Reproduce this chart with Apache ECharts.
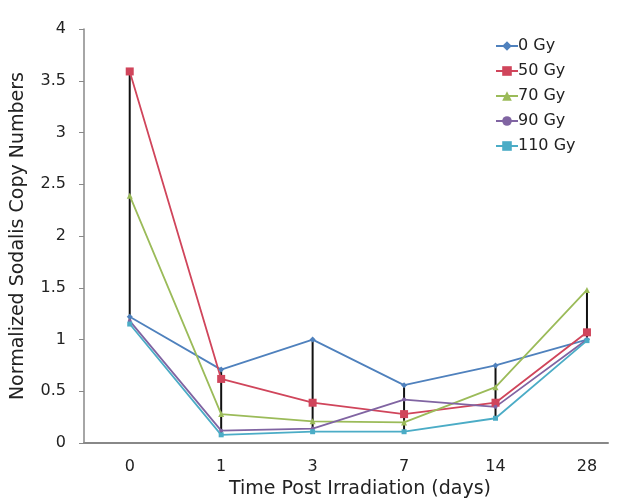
<!DOCTYPE html>
<html>
<head>
<meta charset="utf-8">
<script src="https://cdn.jsdelivr.net/npm/echarts@6/dist/echarts.min.js"></script>
<style>
  html, body { margin: 0; padding: 0; background: #fff; }
  #main { width: 624px; height: 504px; }
</style>
</head>
<body>
<div id="main"></div>
<script>
// days post irradiation
var categories = ["0", "1", "3", "7", "14", "28"];
var seriesNames = ["0 Gy", "50 Gy", "70 Gy", "90 Gy", "110 Gy"];
var gy0   = [1.22, 0.71, 1.00, 0.56, 0.75, 1.00];
var gy50  = [3.59, 0.62, 0.39, 0.28, 0.39, 1.07];
var gy70  = [2.39, 0.28, 0.21, 0.20, 0.54, 1.48];
var gy90  = [1.18, 0.12, 0.14, 0.42, 0.35, 1.00];
var gy110 = [1.15, 0.08, 0.11, 0.11, 0.24, 0.99];
var yTicks = [0, 0.5, 1, 1.5, 2, 2.5, 3, 3.5, 4];

var allSeries = [gy0, gy50, gy70, gy90, gy110];
var colors = ["#4F81BD", "#D0455B", "#9BBB59", "#8064A2", "#4BACC6"];
var symbols = ["diamond", "rect", "triangle", "circle", "rect"];
var symbolSizes = [6, 8, 6, 4, 5];

// high-low range for each day
var hiLo = categories.map(function (c, i) {
  var vals = allSeries.map(function (s) { return s[i]; });
  return [i, Math.min.apply(null, vals), Math.max.apply(null, vals)];
});

var series = [{
  type: "custom",
  silent: true,
  z: 1,
  data: hiLo,
  renderItem: function (params, api) {
    var a = api.coord([api.value(0), api.value(1)]);
    var b = api.coord([api.value(0), api.value(2)]);
    return {
      type: "line",
      shape: { x1: a[0], y1: a[1], x2: b[0], y2: b[1] },
      style: { stroke: "#111", lineWidth: 2 }
    };
  }
}];

allSeries.forEach(function (s, k) {
  series.push({
    name: seriesNames[k],
    type: "line",
    z: 2,
    data: s.map(function (v, i) { return [i, v]; }),
    symbol: symbols[k],
    symbolSize: symbolSizes[k],
    showAllSymbol: true,
    lineStyle: { color: colors[k], width: 1.8 },
    itemStyle: { color: colors[k] }
  });
});

var chart = echarts.init(document.getElementById("main"));
chart.setOption({
  animation: false,
  textStyle: { fontFamily: "DejaVu Sans, sans-serif" },
  grid: { left: 84, right: 16, top: 29, bottom: 57 },
  legend: {
    orient: "vertical",
    left: 490,
    top: 33,
    itemGap: 9,
    itemWidth: 22,
    itemHeight: 12,
    textStyle: { fontSize: 16, color: "#222", padding: [0, 0, 0, -5] },
    data: seriesNames
  },
  xAxis: {
    type: "value",
    min: -0.5,
    max: 5.23,
    interval: 0.5,
    name: "Time Post Irradiation (days)",
    nameLocation: "middle",
    nameGap: 36,
    nameTextStyle: { fontSize: 19, color: "#222", padding: [0, 0, 0, 28] },
    splitLine: { show: false },
    axisTick: { show: false },
    axisLine: { lineStyle: { color: "#888", width: 2 } },
    axisLabel: {
      fontSize: 16,
      color: "#222",
      margin: 16,
      showMaxLabel: false,
      formatter: function (v) {
        return Number.isInteger(v) && categories[v] !== undefined ? categories[v] : "";
      }
    }
  },
  yAxis: {
    type: "value",
    min: yTicks[0],
    max: yTicks[yTicks.length - 1],
    interval: 0.5,
    name: "Normalized Sodalis Copy Numbers",
    nameLocation: "middle",
    nameGap: 56,
    nameTextStyle: { fontSize: 19, color: "#222" },
    splitLine: { show: false },
    axisLine: { show: true, onZero: false, lineStyle: { color: "#888", width: 1.5 } },
    axisTick: { show: true, length: 5, lineStyle: { color: "#888" } },
    axisLabel: { fontSize: 16, color: "#222", margin: 18 }
  },
  series: series
});
</script>
</body>
</html>
